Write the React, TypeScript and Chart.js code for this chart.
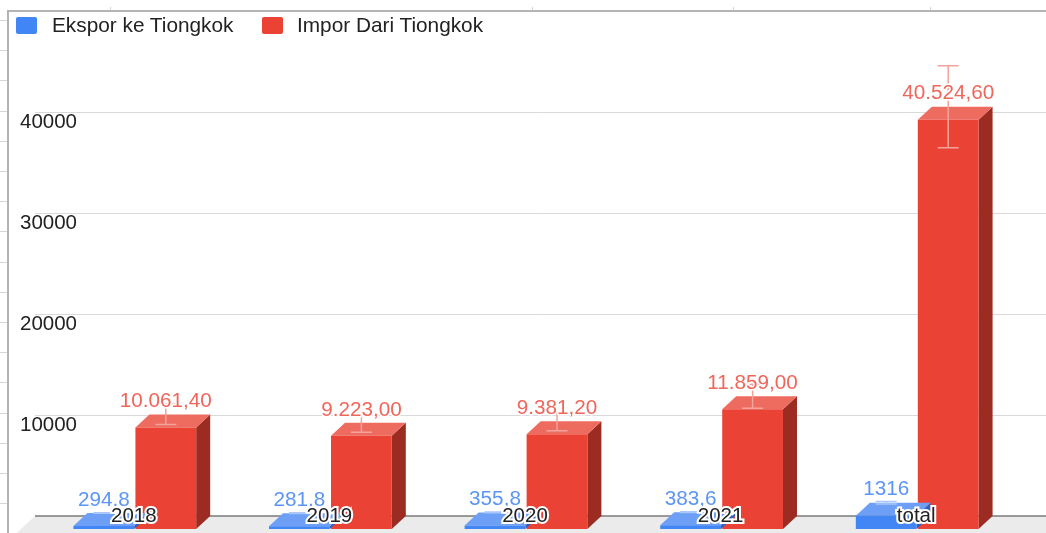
import React, { useEffect, useRef } from 'react';
import { Chart, registerables } from 'chart.js';

Chart.register(...registerables);

const categories = ['2018', '2019', '2020', '2021', 'total'];
const exportValues = [294.8, 281.8, 355.8, 383.6, 1316];
const importValues = [10061.4, 9223.0, 9381.2, 11859.0, 40524.6];
const seriesNames = ['Ekspor ke Tiongkok', 'Impor Dari Tiongkok'];
const yTickStep = 10000;
const yMax = 50000;
const errorPercent = 10;

const FONT = "'Liberation Sans', Arial, Helvetica, sans-serif";
const DX = 14;
const DY = 13;
const BLUE = { front: '#4285f4', top: '#6d9ff6', side: '#2c62c4', label: '#5b95f5', err: '#a9c7fa' };
const RED = { front: '#ea4335', top: '#ee6b60', side: '#9c2b22', label: '#ef665a', err: '#f4a39c' };
const palettes = [BLUE, RED];

function fmtExport(v: number): string {
  return String(v).replace('.', ',');
}
function fmtImport(v: number): string {
  const [i, d] = v.toFixed(2).split('.');
  return i.replace(/\B(?=(\d{3})+(?!\d))/g, '.') + ',' + d;
}
const formatters = [fmtExport, fmtImport];

const bar3d = {
  id: 'bar3d',
  beforeDraw(chart: any) {
    const ctx = chart.ctx;
    ctx.save();
    ctx.fillStyle = '#ffffff';
    ctx.fillRect(0, 0, chart.width, chart.height);
    ctx.strokeStyle = '#d4d4d4';
    ctx.lineWidth = 1;
    for (let y = 20; y < chart.height; y += 30.2) {
      const py = Math.round(y) + 0.5;
      ctx.beginPath();
      ctx.moveTo(0, py);
      ctx.lineTo(7, py);
      ctx.stroke();
    }
    for (const x of [110, 532, 733, 930]) {
      ctx.beginPath();
      ctx.moveTo(x + 0.5, 7);
      ctx.lineTo(x + 0.5, 10);
      ctx.stroke();
    }
    ctx.strokeStyle = '#b4b4b4';
    ctx.lineWidth = 2;
    ctx.beginPath();
    ctx.moveTo(8, chart.height);
    ctx.lineTo(8, 11);
    ctx.lineTo(chart.width, 11);
    ctx.stroke();
    ctx.restore();
  },
  beforeDatasetsDraw(chart: any) {
    const ctx = chart.ctx;
    const y = chart.scales.y;
    const y0 = y.getPixelForValue(0);
    const xStart = 35;
    ctx.save();
    ctx.fillStyle = '#ebebeb';
    const h = chart.height - y0;
    ctx.beginPath();
    ctx.moveTo(xStart, y0);
    ctx.lineTo(chart.width, y0);
    ctx.lineTo(chart.width, chart.height);
    ctx.lineTo(xStart - (h * DX) / DY, chart.height);
    ctx.closePath();
    ctx.fill();
    ctx.strokeStyle = '#d9d9d9';
    ctx.lineWidth = 1;
    y.ticks.forEach((t: any) => {
      if (t.value <= 0 || t.value >= yMax) return;
      const py = Math.round(y.getPixelForValue(t.value)) + 0.5;
      ctx.beginPath();
      ctx.moveTo(xStart, py);
      ctx.lineTo(chart.width, py);
      ctx.stroke();
    });
    ctx.strokeStyle = '#7a7a7a';
    ctx.lineWidth = 1.5;
    ctx.beginPath();
    ctx.moveTo(xStart, y0);
    ctx.lineTo(chart.width, y0);
    ctx.stroke();
    ctx.restore();
  },
  beforeDatasetDraw(chart: any, args: any) {
    const ctx = chart.ctx;
    const pal = palettes[args.index];
    ctx.save();
    args.meta.data.forEach((el: any) => {
      const { x, y, base, width } = el.getProps(['x', 'y', 'base', 'width'], true);
      const l = x - width / 2;
      const r = x + width / 2;
      ctx.fillStyle = pal.side;
      ctx.beginPath();
      ctx.moveTo(r - DX, y + DY);
      ctx.lineTo(r, y);
      ctx.lineTo(r, base);
      ctx.lineTo(r - DX, base + DY);
      ctx.closePath();
      ctx.fill();
      ctx.fillStyle = pal.top;
      ctx.beginPath();
      ctx.moveTo(l - DX, y + DY);
      ctx.lineTo(l, y);
      ctx.lineTo(r, y);
      ctx.lineTo(r - DX, y + DY);
      ctx.closePath();
      ctx.fill();
    });
    ctx.restore();
    ctx.save();
    ctx.translate(-DX, DY);
  },
  afterDatasetDraw(chart: any, args: any) {
    const ctx = chart.ctx;
    ctx.restore();
    const pal = palettes[args.index];
    const ys = chart.scales.y;
    const values = chart.data.datasets[args.index].data as number[];
    ctx.save();
    ctx.strokeStyle = pal.err;
    ctx.lineWidth = 1.5;
    args.meta.data.forEach((el: any, i: number) => {
      const { x } = el.getProps(['x'], true);
      const v = values[i];
      const cx = x - DX;
      const yHi = ys.getPixelForValue(v * (1 + errorPercent / 100));
      const yLo = ys.getPixelForValue(v * (1 - errorPercent / 100));
      ctx.beginPath();
      ctx.moveTo(cx, yHi);
      ctx.lineTo(cx, yLo);
      ctx.moveTo(cx - 10.5, yHi);
      ctx.lineTo(cx + 10.5, yHi);
      ctx.moveTo(cx - 10.5, yLo);
      ctx.lineTo(cx + 10.5, yLo);
      ctx.stroke();
    });
    ctx.restore();
  },
  afterDatasetsDraw(chart: any) {
    const ctx = chart.ctx;
    ctx.save();
    ctx.font = `20.7px ${FONT}`;
    ctx.textAlign = 'center';
    ctx.textBaseline = 'middle';
    ctx.lineJoin = 'round';
    chart.data.datasets.forEach((ds: any, di: number) => {
      const meta = chart.getDatasetMeta(di);
      meta.data.forEach((el: any, i: number) => {
        const { x, y } = el.getProps(['x', 'y'], true);
        const text = formatters[di](ds.data[i]);
        const tx = x - DX;
        const ty = y - 13;
        ctx.strokeStyle = '#ffffff';
        ctx.lineWidth = 3;
        ctx.strokeText(text, tx, ty);
        ctx.fillStyle = palettes[di].label;
        ctx.fillText(text, tx, ty);
      });
    });
    ctx.restore();
  },
};

export default function App() {
  const canvasRef = useRef<HTMLCanvasElement | null>(null);

  useEffect(() => {
    if (!canvasRef.current) return;
    Chart.defaults.font.family = FONT;
    const chart = new Chart(canvasRef.current, {
      type: 'bar',
      data: {
        labels: categories,
        datasets: [
          {
            label: seriesNames[0],
            data: exportValues,
            backgroundColor: BLUE.front,
            borderWidth: 0,
            categoryPercentage: 0.634,
            barPercentage: 0.98,
            clip: false as any,
          },
          {
            label: seriesNames[1],
            data: importValues,
            backgroundColor: RED.front,
            borderWidth: 0,
            categoryPercentage: 0.634,
            barPercentage: 0.98,
            clip: false as any,
          },
        ],
      },
      options: {
        responsive: false,
        animation: false,
        devicePixelRatio: 1,
        layout: { padding: { left: 20, right: 17, top: 11, bottom: 0 } },
        plugins: {
          legend: { display: false },
          tooltip: { enabled: false },
        },
        scales: {
          x: {
            type: 'category',
            offset: true,
            grid: { display: false, drawTicks: false },
            border: { display: false },
            ticks: {
              z: 1,
              font: { size: 20.5, family: FONT },
              color: '#222222',
              labelOffset: -15,
              padding: -12,
              maxRotation: 0,
              autoSkip: false,
              textStrokeColor: '#ffffff',
              textStrokeWidth: 4,
            } as any,
            afterFit: (s: any) => {
              s.height = 17;
              s.paddingLeft = 0;
              s.paddingRight = 0;
              s._computeLabelArea = () => undefined;
            },
          },
          y: {
            type: 'linear',
            min: 0,
            max: yMax,
            grid: { display: false, drawTicks: false },
            border: { display: false },
            ticks: {
              stepSize: yTickStep,
              crossAlign: 'far',
              labelOffset: 10,
              padding: 0,
              font: { size: 20.5, family: FONT },
              color: '#222222',
              callback: (v: any) => (v === 0 || v === yMax ? '' : String(v)),
            },
            afterFit: (s: any) => {
              s.width = 31;
              s.paddingTop = 0;
              s.paddingBottom = 0;
              s._computeLabelArea = () => undefined;
            },
          },
        },
      },
      plugins: [bar3d],
    });
    return () => chart.destroy();
  }, []);

  const legendItems = [
    { box: 16, text: 52, name: seriesNames[0], color: BLUE.front },
    { box: 262, text: 297, name: seriesNames[1], color: RED.front },
  ];

  return (
    <div style={{ position: 'fixed', left: 0, top: 0, width: 1046, height: 533, background: '#fff', overflow: 'hidden' }}>
      <canvas ref={canvasRef} width={1046} height={533} style={{ display: 'block' }} />
      {legendItems.map((it) => (
        <React.Fragment key={it.name}>
          <div
            style={{
              position: 'absolute',
              left: it.box,
              top: 17,
              width: 21,
              height: 17,
              background: it.color,
              borderRadius: 2,
            }}
          />
          <div
            style={{
              position: 'absolute',
              left: it.text,
              top: 15,
              font: `20.8px ${FONT}`,
              lineHeight: '20px',
              color: '#222',
              whiteSpace: 'nowrap',
            }}
          >
            {it.name}
          </div>
        </React.Fragment>
      ))}
    </div>
  );
}
